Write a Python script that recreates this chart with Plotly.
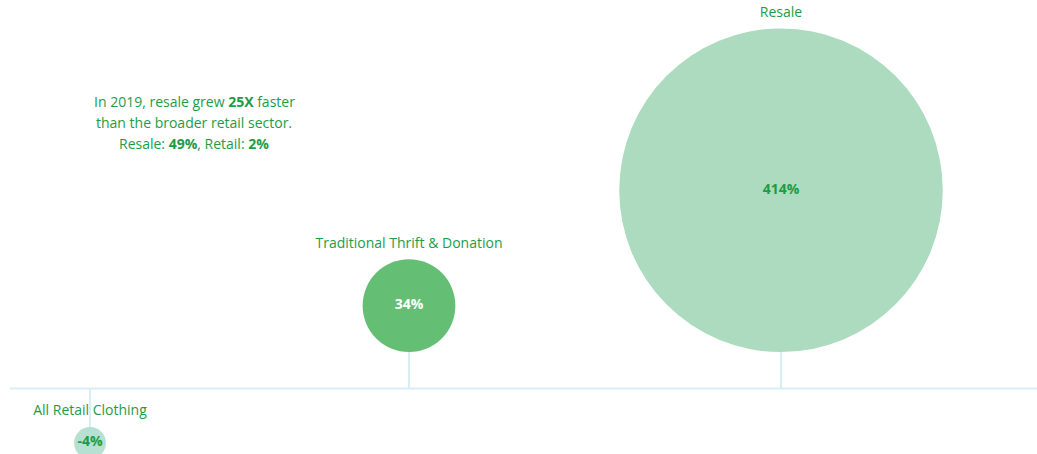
import math
import plotly.graph_objects as go

# Growth of clothing segments, 2019 (percent)
categories = ["All Retail Clothing", "Traditional Thrift & Donation", "Resale"]
growth_pct = [-4, 34, 414]
note_lines = [
    "In 2019, resale grew <b>25X</b> faster",
    "than the broader retail sector.",
    "Resale: <b>49%</b>, Retail: <b>2%</b>",
]

# ---- layout constants (pixel space) ----
W, H = 1037, 454
BASE_Y = 388.5          # baseline position
X_CENTERS = [90, 409, 781]
K = 7.95                # radius per sqrt(percent) -> bubble area ~ value
GAP = 36.5              # stem length between baseline and bubble edge
NEG_GAP = 38.5
LABEL_OFF = 15

GREEN_TXT = "#1c9c45"
STEM = "#d8eef6"
FILL = ["#b5e0d2", "#64bf75", "#acdbbf"]
VAL_COL = [GREEN_TXT, "#ffffff", GREEN_TXT]
FONT = "Open Sans"
FS = 14

radii = [K * math.sqrt(abs(v)) for v in growth_pct]
cy = []
for v, r in zip(growth_pct, radii):
    if v >= 0:
        cy.append(BASE_Y - (GAP + r))
    else:
        cy.append(BASE_Y + (NEG_GAP + r))

fig = go.Figure()

# stems from baseline to bubble edge
sx, sy = [], []
for x, v, r, c in zip(X_CENTERS, growth_pct, radii, cy):
    edge = c + r if v >= 0 else c - r
    sx += [x, x, None]
    sy += [BASE_Y, edge, None]
fig.add_trace(go.Scatter(x=sx, y=sy, mode="lines",
                         line=dict(color=STEM, width=2), hoverinfo="skip"))

# baseline
fig.add_trace(go.Scatter(x=[10, W], y=[BASE_Y, BASE_Y], mode="lines",
                         line=dict(color=STEM, width=2), hoverinfo="skip"))

# bubbles with values
fig.add_trace(go.Scatter(
    x=X_CENTERS, y=cy, mode="markers+text",
    marker=dict(size=[2 * r for r in radii], sizemode="diameter",
                color=FILL, opacity=1, line=dict(width=0)),
    text=[f"<b>{v}%</b>" for v in growth_pct],
    textposition="middle center",
    textfont=dict(family=FONT, size=FS, color=VAL_COL),
    hoverinfo="skip",
))

# category labels: above bubble for gains, between baseline and bubble for losses
lab_y = []
for v, r, c in zip(growth_pct, radii, cy):
    if v >= 0:
        lab_y.append(c - r - LABEL_OFF)
    else:
        lab_y.append(BASE_Y + 23)
fig.add_trace(go.Scatter(
    x=X_CENTERS, y=lab_y, mode="text", text=categories,
    textposition="middle center",
    textfont=dict(family=FONT, size=FS, color=GREEN_TXT),
    hoverinfo="skip",
))

# note text
for i, line in enumerate(note_lines):
    fig.add_annotation(x=194, y=101 + i * 21, text=line, showarrow=False,
                       xanchor="center", yanchor="middle",
                       font=dict(family=FONT, size=FS, color=GREEN_TXT))

fig.update_layout(
    width=W, height=H, margin=dict(l=0, r=0, t=0, b=0),
    paper_bgcolor="white", plot_bgcolor="white", showlegend=False,
    xaxis=dict(range=[0, W], visible=False, fixedrange=True),
    yaxis=dict(range=[H, 0], visible=False, fixedrange=True),
)

fig.write_html("out.html")
